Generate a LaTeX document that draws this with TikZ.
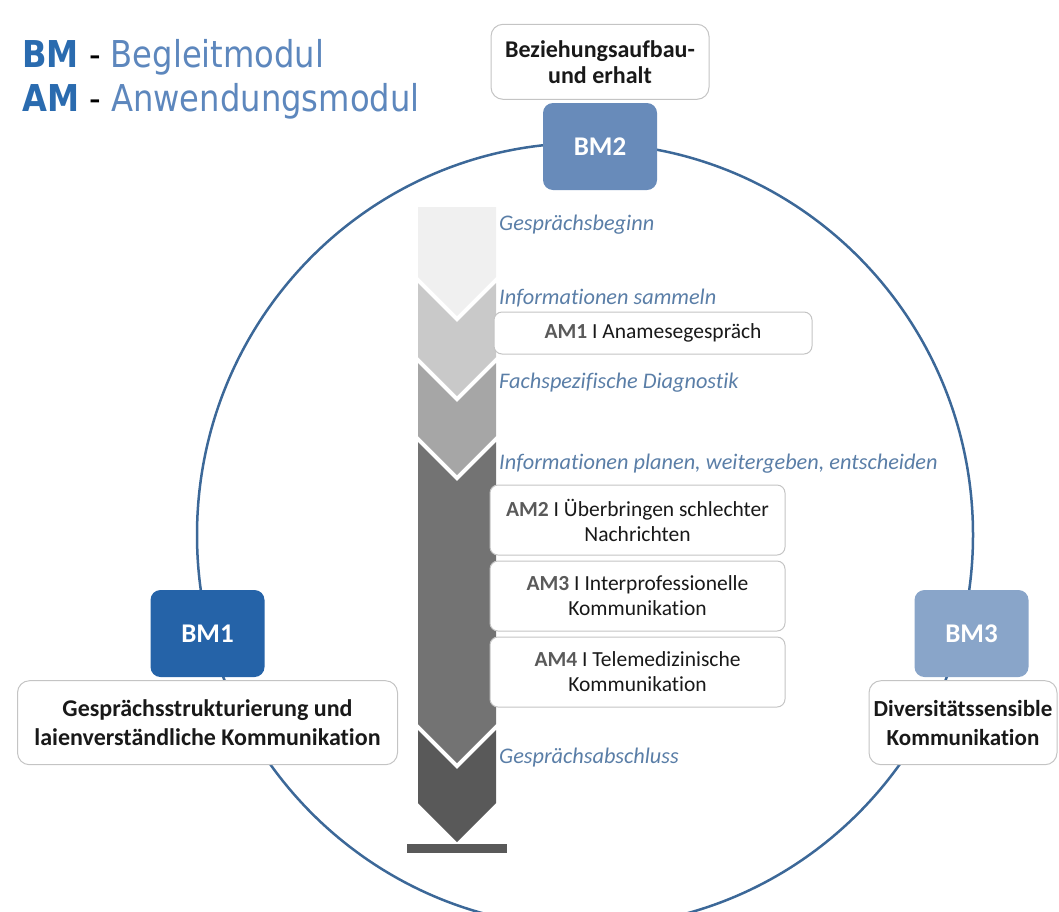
\documentclass[tikz,border=0pt]{standalone}
\usepackage{fontspec}
\setmainfont{Carlito}[Ligatures=NoCommon]
\newfontfamily\legendfont[FakeStretch=0.87]{DejaVu Sans}
\usetikzlibrary{positioning}
\definecolor{bmone}{HTML}{2563A8}
\definecolor{bmtwo}{HTML}{688BBA}
\definecolor{bmthree}{HTML}{89A5C9}
\definecolor{ringblue}{HTML}{3C6898}
\definecolor{legenddark}{HTML}{2A6BAF}
\definecolor{legendlight}{HTML}{5D87BD}
\definecolor{phasetext}{HTML}{5A7EA7}
\definecolor{boxline}{HTML}{C4C4C4}
\definecolor{amgray}{HTML}{5A5A5A}
% one step of the conversation arrow: colour, top y, top notch, bottom y
\newcommand{\phaseseg}[4]{
  \fill[#1] (418,#2) -- (457,#2+#3) -- (496,#2) -- (496,#4)
            -- (457,#4+39) -- (418,#4) -- cycle;
}
\tikzset{
  bmbox/.style  = {fill=#1, rounded corners=10pt, minimum width=114pt,
                   minimum height=87pt, text=white,
                   font=\bfseries\fontsize{27}{30}\selectfont},
  descbox/.style= {draw=boxline, line width=1pt, fill=white,
                   rounded corners=12pt, align=center, text=black!90,
                   font=\bfseries\fontsize{24}{29}\selectfont},
  ambox/.style  = {draw=boxline, line width=1pt, fill=white,
                   rounded corners=8pt, align=center, minimum width=295pt,
                   minimum height=70pt, text=black!90,
                   font=\fontsize{21.5}{25}\selectfont},
  phase/.style  = {anchor=west, inner sep=0pt, text=phasetext,
                   font=\itshape\fontsize{22.3}{26}\selectfont},
  legend/.style = {anchor=base west, inner sep=0pt,
                   font=\legendfont\fontsize{37}{44}\selectfont}
}
\newcommand{\am}[1]{{\bfseries\color{amgray}#1}}

\begin{document}
\begin{tikzpicture}[x=1pt, y=-1pt]
	\useasboundingbox (0,0) rectangle (1059,911);
	% ring of the accompanying modules
	\draw[ringblue, line width=2.5pt] (585,535) ellipse [x radius=388, y radius=392];
	% legend
	\node[legend] (lbm) at (22,67)
	  {\textcolor{legenddark}{\bfseries BM} - \textcolor{legendlight}{Begleitmodul}};
	\node[legend] (lam) at (22,111)
	  {\textcolor{legenddark}{\bfseries AM} - \textcolor{legendlight}{Anwendungsmodul}};
	% accompanying modules
	\node[bmbox=bmtwo] (bm2) at (600,146.5) {BM2};
	\node[descbox, minimum width=218pt, minimum height=75pt,
	      font=\bfseries\fontsize{24}{26}\selectfont, above=3pt of bm2] (d2)
	  {Beziehungsaufbau-\\und erhalt};
	\node[bmbox=bmone] (bm1) at (207.5,633.5) {BM1};
	\node[descbox, minimum width=380pt, minimum height=84pt, below=3pt of bm1] (d1)
	  {Gesprächsstrukturierung und\\laienverständliche Kommunikation};
	\node[bmbox=bmthree] (bm3) at (971.5,633.5) {BM3};
	\node[descbox, minimum width=188pt, minimum height=84pt, inner xsep=0pt,
	      font=\bfseries\fontsize{23}{29}\selectfont,
	      below=3pt of bm3, xshift=-8.5pt] (d3)
	  {Diversitätssensible\\Kommunikation};
	% conversation arrow
	\phaseseg{black!6}{207}{0}{277}
	\phaseseg{black!21}{283}{39}{357}
	\phaseseg{black!35}{363}{39}{436}
	\phaseseg{black!55}{442}{39}{724}
	\phaseseg{black!65}{730}{39}{803}
	\fill[black!65] (407,844) rectangle (507,853);
	% phases
	\node[phase] (p1) at (499,225) {Gesprächsbeginn};
	\node[phase] (p2) at (499,298) {Informationen sammeln};
	\node[phase] (p3) at (499,383) {Fachspezifische Diagnostik};
	\node[phase] (p4) at (499,464) {Informationen planen, weitergeben, entscheiden};
	\node[phase] (p5) at (499,758) {Gesprächsabschluss};
	% application modules
	\node[ambox, minimum width=318pt, minimum height=42pt] (am1) at (653,333)
	  {\am{AM1} I Anamesegespräch};
	\node[ambox] (am2) at (637.5,520) {\am{AM2} I Überbringen schlechter\\Nachrichten};
	\node[ambox, below=5pt of am2] (am3) {\am{AM3} I Interprofessionelle\\Kommunikation};
	\node[ambox, below=5pt of am3] (am4) {\am{AM4} I Telemedizinische\\Kommunikation};
\end{tikzpicture}
\end{document}
